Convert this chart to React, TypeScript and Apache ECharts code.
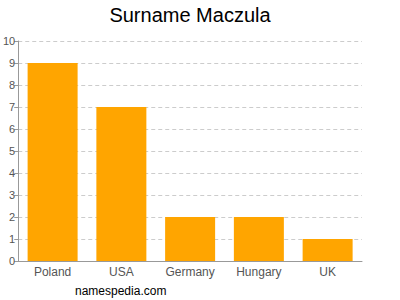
import React, { useEffect, useRef } from "react";
import * as echarts from "echarts";

const categories = ["Poland", "USA", "Germany", "Hungary", "UK"];
const counts = [9, 7, 2, 2, 1];
const titleText = "Surname Maczula";
const footerText = "namespedia.com";

export default function App() {
  const ref = useRef<HTMLDivElement>(null);
  useEffect(() => {
    if (!ref.current) return;
    const chart = echarts.init(ref.current, undefined, { renderer: "svg" });
    chart.setOption({
      animation: false,
      graphic: [
        {
          type: "text",
          x: 190,
          y: 5,
          style: {
            text: titleText,
            fontFamily: "Liberation Sans, Arial, sans-serif",
            fontSize: 20,
            fill: "#000",
            textAlign: "center",
            textVerticalAlign: "top",
          },
        },
        {
          type: "text",
          left: 75,
          top: 285,
          style: { text: footerText, fontFamily: "Liberation Sans, Arial, sans-serif", fontSize: 12, fill: "#000" },
        },
      ],
      grid: { left: 17, right: 38, top: 41, bottom: 39, containLabel: false },
      xAxis: {
        type: "category",
        data: categories,
        axisLine: { lineStyle: { color: "#999" } },
        axisTick: { show: false },
        axisLabel: { color: "#555", fontSize: 12, fontFamily: "Liberation Sans, Arial, sans-serif", margin: 5 },
      },
      yAxis: {
        type: "value",
        min: 0,
        max: 10,
        interval: 1,
        axisLine: { show: true, lineStyle: { color: "#999" } },
        axisTick: { show: true, length: 4, lineStyle: { color: "#999" } },
        axisLabel: { color: "#555", fontSize: 11, fontFamily: "Liberation Sans, Arial, sans-serif", margin: 3 },
        splitLine: { show: true, lineStyle: { color: "#ccc", type: [4, 3] } },
      },
      series: [
        {
          type: "bar",
          data: counts,
          barWidth: 50,
          itemStyle: { color: "#FFA500" },
        },
      ],
    });
    return () => chart.dispose();
  }, []);
  return <div ref={ref} style={{ width: 400, height: 300, position: "absolute", left: 0, top: 0 }} />;
}
